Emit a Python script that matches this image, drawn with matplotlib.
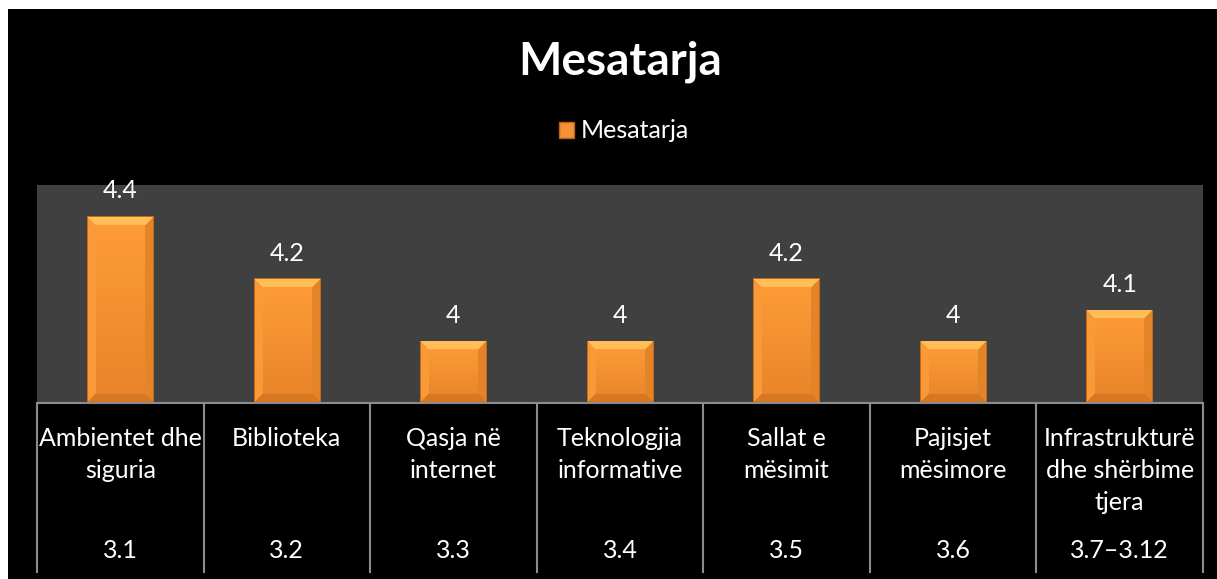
import numpy as np
import matplotlib
matplotlib.use("Agg")
import matplotlib.pyplot as plt
from matplotlib.patches import Rectangle, Patch
from matplotlib.lines import Line2D
from matplotlib.transforms import blended_transform_factory

plt.rcParams['font.family'] = ['Lato', 'DejaVu Sans']

title = "Mesatarja"
series_name = "Mesatarja"
categories = ["Ambientet dhe\nsiguria", "Biblioteka", "Qasja në\ninternet",
              "Teknologjia\ninformative", "Sallat e\nmësimit", "Pajisjet\nmësimore",
              "Infrastrukturë\ndhe shërbime\ntjera"]
codes = ["3.1", "3.2", "3.3", "3.4", "3.5", "3.6", "3.7–3.12"]
values = [4.4, 4.2, 4.0, 4.0, 4.2, 4.0, 4.1]

W, H = 1217, 579
fig = plt.figure(figsize=(W / 100, H / 100), dpi=100, facecolor='black')

# white margins (top and left)
fig.patches.append(Rectangle((0, 1 - 9 / H), 1, 9 / H, transform=fig.transFigure,
                             facecolor='white', edgecolor='none', zorder=0))
fig.patches.append(Rectangle((0, 0), 8 / W, 1, transform=fig.transFigure,
                             facecolor='white', edgecolor='none', zorder=0))

x0, x1, ytop, ybot = 37, 1203, 185, 403
ax = fig.add_axes([x0 / W, (H - ybot) / H, (x1 - x0) / W, (ybot - ytop) / H])
ax.set_facecolor('#404040')
for s in ax.spines.values():
    s.set_visible(False)
ax.set_xticks([])
ax.set_yticks([])
ax.set_xlim(-0.5, len(values) - 0.5)
ax.set_ylim(3.8, 4.5)

xs = np.arange(len(values))
bars = ax.bar(xs, np.array(values) - 3.8, bottom=3.8, width=0.4,
              color='#F39237', edgecolor='none', zorder=2)
ax.bar_label(bars, labels=[f"{v:g}" for v in values], padding=10,
             color='white', fontsize=18)

# bevel shading on bars
def hexrgb(h):
    h = h.lstrip('#')
    return np.array([int(h[i:i + 2], 16) / 255 for i in (0, 2, 4)])

face_top, face_bot = hexrgb('#FF9D38'), hexrgb('#E8832A')
c_top, c_left = hexrgb('#FFBE58'), hexrgb('#F99A38')
c_right, c_bot = hexrgb('#E48428'), hexrgb('#D87722')
edge = hexrgb('#C8671A')
ppu_x = (x1 - x0) / 7.0
ppu_y = (ybot - ytop) / 0.7
bev = 9
for b in bars:
    bx, by, bw, bh = b.get_x(), b.get_y(), b.get_width(), b.get_height()
    pw, ph = max(int(round(bw * ppu_x)), 2), max(int(round(bh * ppu_y)), 2)
    ii, jj = np.mgrid[0:ph, 0:pw]
    t = ii / (ph - 1)
    img = face_top[None, None, :] * (1 - t[..., None]) + face_bot[None, None, :] * t[..., None]
    dt, db, dl, dr = ii, ph - 1 - ii, jj, pw - 1 - jj
    dmin = np.minimum(np.minimum(dt, db), np.minimum(dl, dr))
    m = dmin < bev
    img[m & (dt == dmin)] = c_top
    img[m & (db == dmin) & (dt != dmin)] = c_bot
    img[m & (dl == dmin) & (dt != dmin) & (db != dmin)] = c_left
    img[m & (dr == dmin) & (dt != dmin) & (db != dmin) & (dl != dmin)] = c_right
    img[dmin == 0] = edge
    im = ax.imshow(img, extent=(bx, bx + bw, by, by + bh), aspect='auto',
                   interpolation='bilinear', zorder=3)
    im.set_clip_path(b)

ax.set_xlim(-0.5, len(values) - 0.5)
ax.set_ylim(3.8, 4.5)

# category table lines
tr = blended_transform_factory(ax.transData, fig.transFigure)
grid_col = '#8C8C8C'
ax.add_line(Line2D([-0.5, len(values) - 0.5], [(H - ybot) / H] * 2, transform=tr,
                   color=grid_col, lw=1.5, clip_on=False, zorder=5))
for k in range(len(values) + 1):
    ax.add_line(Line2D([k - 0.5, k - 0.5], [(H - ybot) / H, (H - 572) / H], transform=tr,
                       color=grid_col, lw=1.5, clip_on=False, zorder=5))

for x, lab, code in zip(xs, categories, codes):
    ax.text(x, (H - 427) / H, lab, transform=tr, ha='center', va='top',
            color='white', fontsize=18, linespacing=1.48)
    ax.text(x, (H - 550) / H, code, transform=tr, ha='center', va='center',
            color='white', fontsize=18)

fig.text(620 / W, (H - 62) / H, title, ha='center', va='center', color='white',
         fontsize=33, fontweight='bold')

handle = Patch(facecolor='#F39237', edgecolor='#B8621A', linewidth=1)
fig.legend(handles=[handle], labels=[series_name], loc='center',
           bbox_to_anchor=(624 / W, (H - 131) / H), frameon=False,
           labelcolor='white', fontsize=18, handlelength=0.6, handleheight=0.6,
           handletextpad=0.3)

fig.savefig('out.png', dpi=100, facecolor='black')
